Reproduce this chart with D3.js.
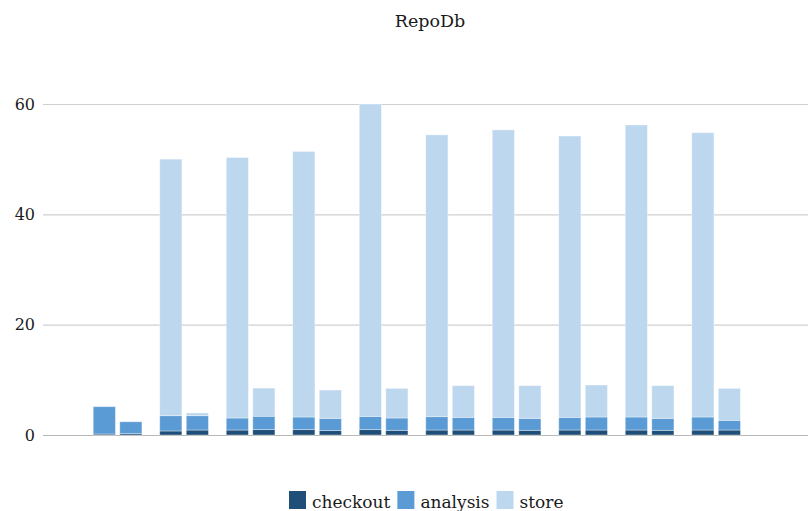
<!DOCTYPE html>
<html>
<head>
<meta charset="utf-8">
<script src="https://cdn.jsdelivr.net/npm/d3@7"></script>
<style>
  html, body { margin: 0; padding: 0; background: #fff; }
  svg { display: block; font-family: "DejaVu Serif", serif; }
</style>
</head>
<body>
<svg id="chart" width="808" height="511"></svg>
<script>
// Benchmark groups (two runs per group), stacked by phase
const groups = ["1", "2", "3", "4", "5", "6", "7", "8", "9", "10"];
const runs = ["first", "second"];
const phases = ["checkout", "analysis", "store"];

// seconds per phase, one entry per group: [first run, second run]
const checkout = [
  [0.18, 0.24], [0.73, 0.90], [0.90, 0.97], [0.97, 0.79], [0.97, 0.85],
  [0.90, 0.90], [0.90, 0.85], [0.90, 0.90], [0.90, 0.85], [0.90, 0.90]
];
const analysis = [
  [4.95, 2.16], [2.77, 2.60], [2.18, 2.43], [2.29, 2.23], [2.41, 2.23],
  [2.42, 2.30], [2.30, 2.17], [2.30, 2.36], [2.36, 2.17], [2.36, 1.76]
];
const store = [
  [0.00, 0.00], [46.50, 0.50], [47.22, 5.10], [48.14, 5.13], [56.62, 5.37],
  [51.08, 5.74], [52.10, 5.92], [51.00, 5.80], [52.94, 5.92], [51.54, 5.79]
];
const yTicks = [0, 20, 40, 60];
const title = "RepoDb";

const colors = { checkout: "#1f4e79", analysis: "#5b9bd5", store: "#bdd7ee" };
const series = { checkout, analysis, store };

const svg = d3.select("#chart");

const y = d3.scaleLinear().domain([0, 60]).range([435, 104]);
const x0 = d3.scaleBand().domain(groups).range([84.6, 749.1])
  .paddingInner(0.268).paddingOuter(0.13);
const x1 = d3.scaleBand().domain(runs).range([0, x0.bandwidth()]).paddingInner(0.165);

// gridlines and tick labels
const yAxis = d3.axisLeft(y).tickValues(yTicks).tickSize(-(808 - 43)).tickPadding(8);
const gy = svg.append("g").attr("transform", "translate(43,0)").call(yAxis);
gy.select(".domain").remove();
gy.selectAll(".tick line").attr("stroke", d => d === 0 ? "#b8b8b8" : "#cfcfcf").attr("stroke-width", 1.2);
gy.selectAll(".tick text").attr("font-size", 16).attr("fill", "#1a1a1a")
  .attr("font-family", "DejaVu Serif, serif").attr("x", -8);

// stacked rows: one per group×run
const rows = [];
groups.forEach((g, gi) => runs.forEach((r, ri) => {
  const row = { group: g, run: r };
  phases.forEach(p => { row[p] = series[p][gi][ri]; });
  rows.push(row);
}));
const stacked = d3.stack().keys(phases)(rows);

const bars = svg.append("g");
stacked.forEach(layer => {
  bars.append("g").attr("fill", colors[layer.key])
    .selectAll("rect").data(layer).join("rect")
    .attr("x", d => x0(d.data.group) + x1(d.data.run))
    .attr("width", x1.bandwidth())
    .attr("y", d => y(d[1]))
    .attr("height", d => Math.max(0, y(d[0]) - y(d[1])))
    .attr("stroke", "rgba(255,255,255,0.45)")
    .attr("stroke-width", 0.8);
});

// title
svg.append("text").attr("x", 430).attr("y", 27).attr("text-anchor", "middle")
  .attr("font-size", 17.5).attr("fill", "#1a1a1a").text(title);

// legend
const legend = svg.append("g");
let lx = 289;
phases.forEach(p => {
  legend.append("rect").attr("x", lx).attr("y", 491).attr("width", 17).attr("height", 18)
    .attr("fill", colors[p]);
  const t = legend.append("text").attr("x", lx + 23).attr("y", 508)
    .attr("font-size", 17).attr("fill", "#1a1a1a").text(p);
  lx += 23 + t.node().getComputedTextLength() + 7;
});
</script>
</body>
</html>
